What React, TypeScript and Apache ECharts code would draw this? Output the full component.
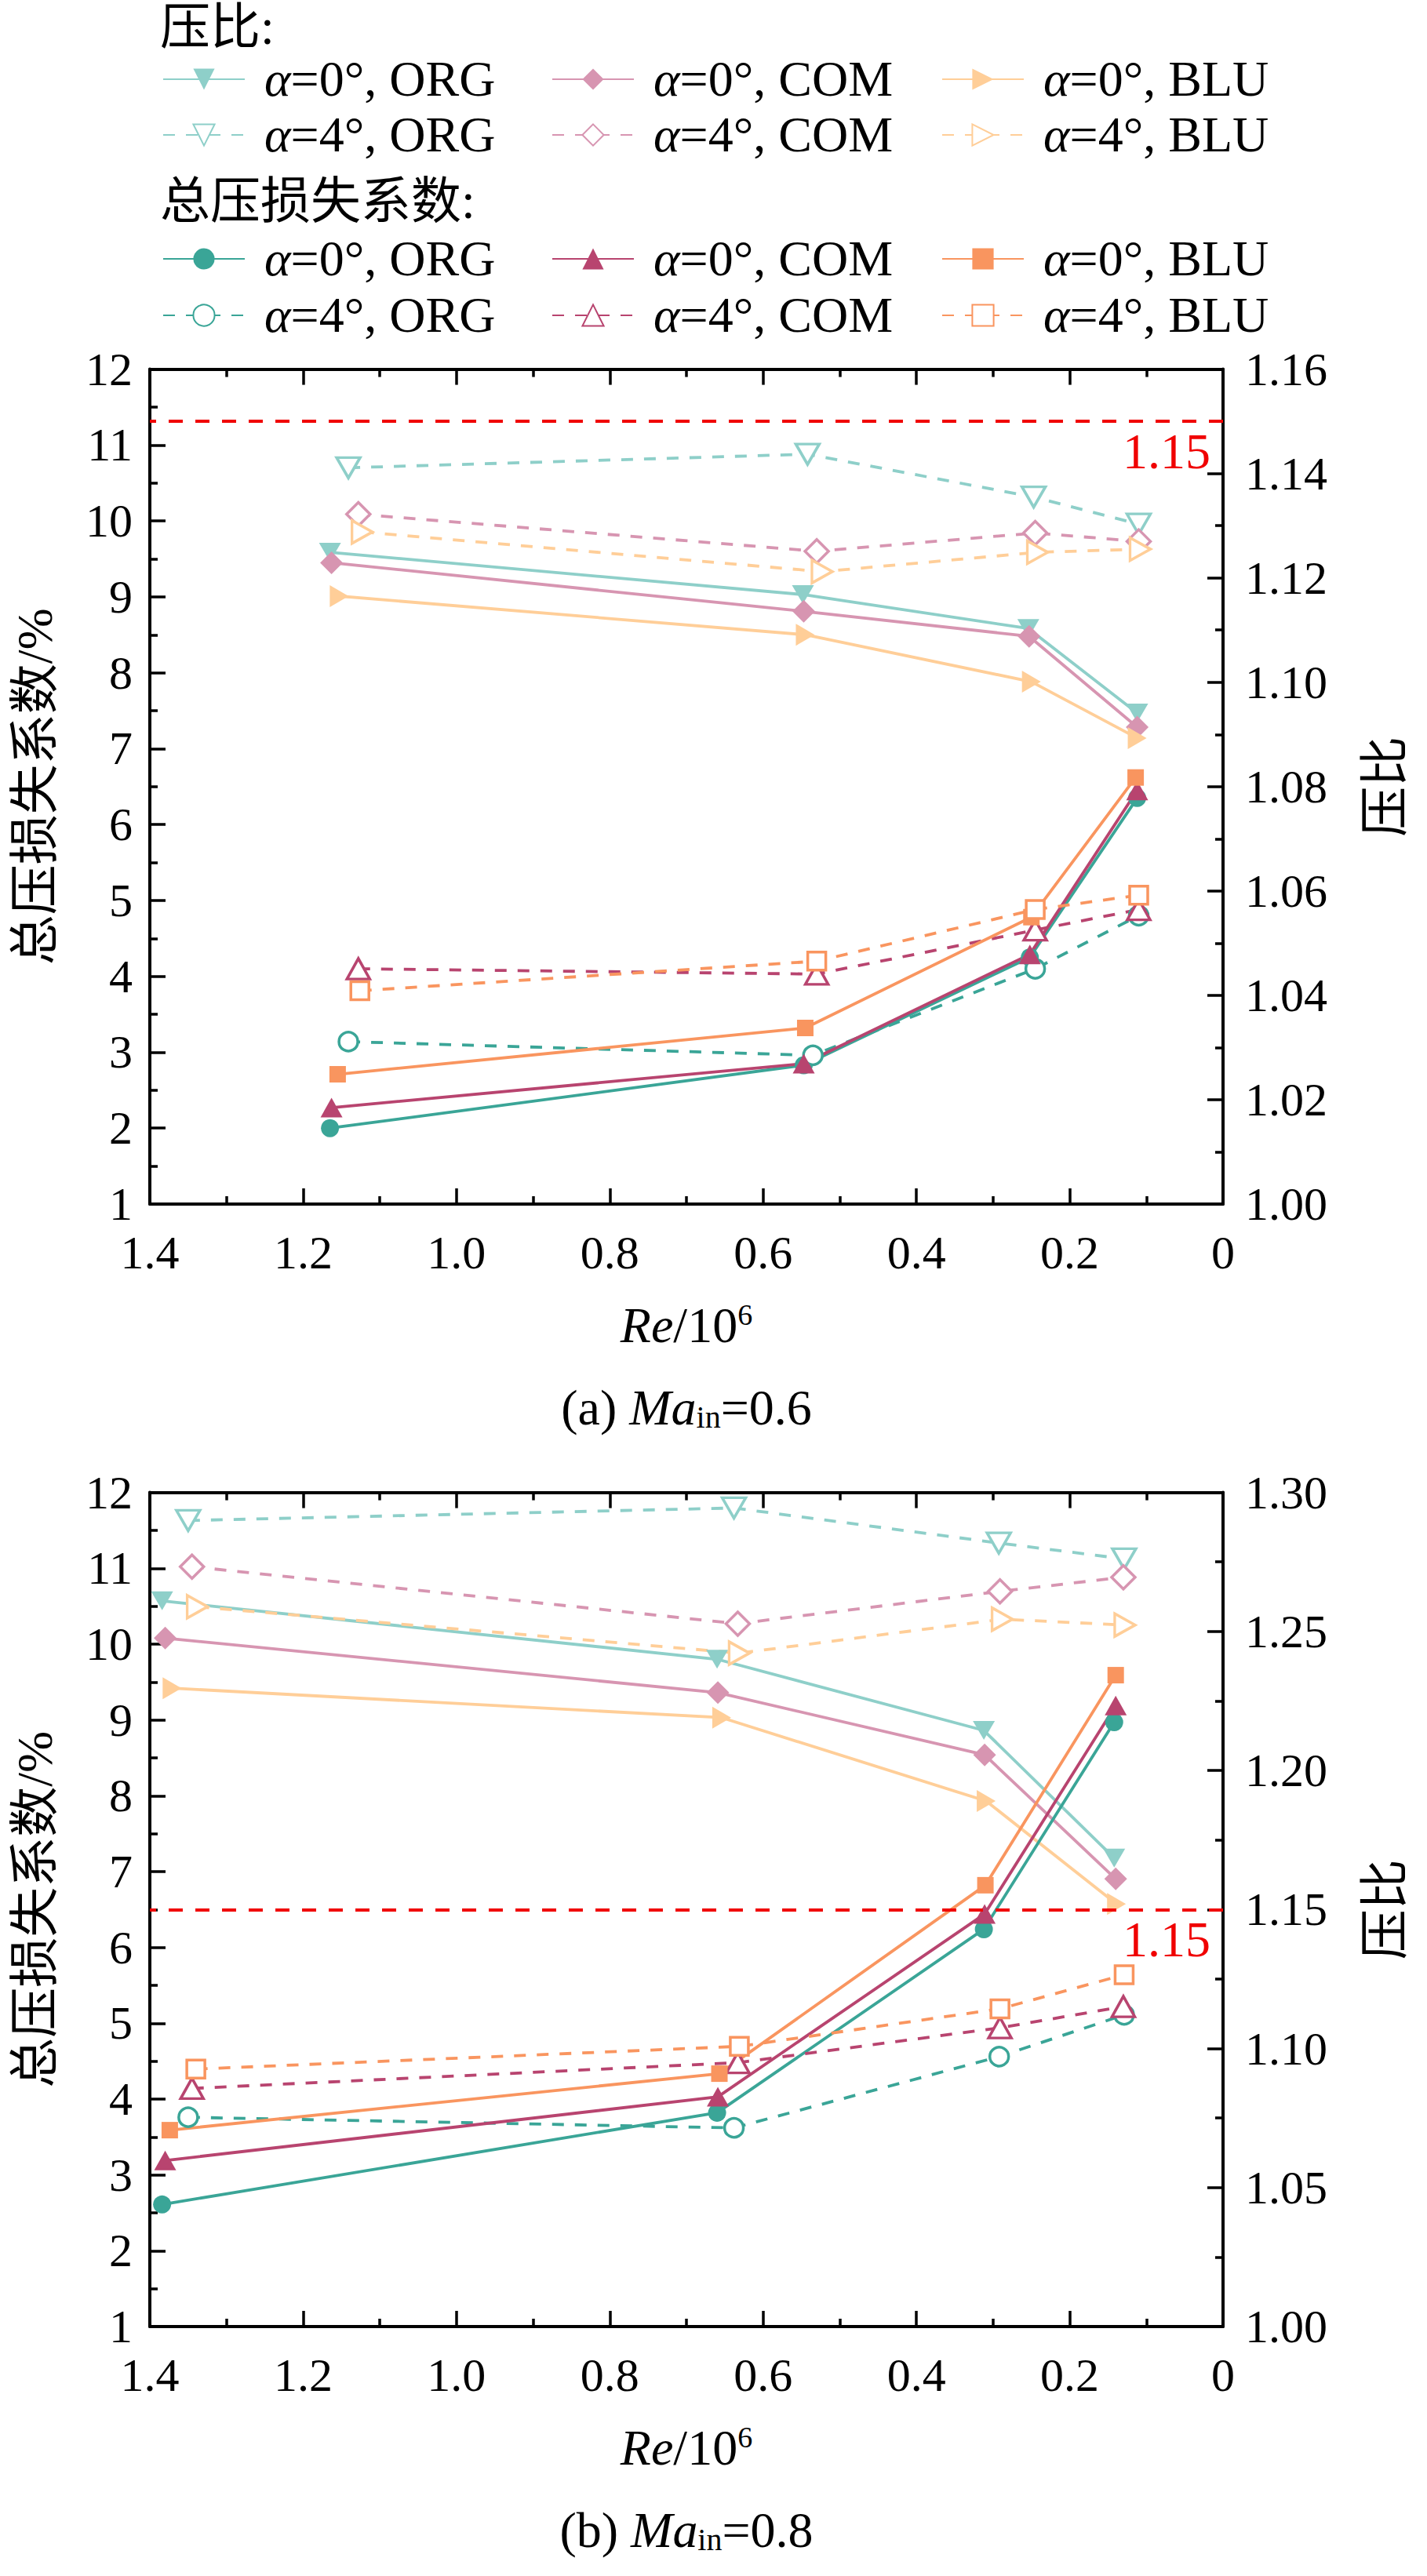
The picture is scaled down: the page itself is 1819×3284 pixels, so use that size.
import React, { useEffect, useRef } from "react";
import * as echarts from "echarts";

// ---------------- axes ----------------
const RE_MIN = 0;
const RE_MAX = 1.4;
const RE_STEP = 0.2;
const TL_MIN = 1;
const TL_MAX = 12;
const TL_STEP = 1;
const PR_A_MIN = 1.0;
const PR_A_MAX = 1.16;
const PR_A_STEP = 0.02;
const PR_B_MIN = 1.0;
const PR_B_MAX = 1.3;
const PR_B_STEP = 0.05;
const THRESHOLD = 1.15;
const THRESHOLD_LABEL = "1.15";

const CONFIGS = ["ORG", "COM", "BLU"];
const ALPHAS = [0, 4];

// ---------------- (a) Ma_in = 0.6 : pressure ratio (right axis) ----------------
const A_PR_ORG0_RE = [1.165, 0.548, 0.254, 0.112];
const A_PR_ORG0 = [1.1249, 1.1168, 1.1103, 1.0941];
const A_PR_COM0_RE = [1.163, 0.547, 0.253, 0.112];
const A_PR_COM0 = [1.1229, 1.1136, 1.1088, 1.0914];
const A_PR_BLU0_RE = [1.153, 0.545, 0.25, 0.112];
const A_PR_BLU0 = [1.1165, 1.1091, 1.1001, 1.0893];
const A_PR_ORG4_RE = [1.141, 0.542, 0.247, 0.11];
const A_PR_ORG4 = [1.1411, 1.1437, 1.1355, 1.1303];
const A_PR_COM4_RE = [1.128, 0.53, 0.245, 0.11];
const A_PR_COM4 = [1.1322, 1.1251, 1.1286, 1.127];
const A_PR_BLU4_RE = [1.123, 0.523, 0.242, 0.108];
const A_PR_BLU4 = [1.1288, 1.1212, 1.1249, 1.1255];

// ---------------- (a) Ma_in = 0.6 : total pressure loss coefficient (left axis) ----------------
const A_TL_ORG0_RE = [1.165, 0.547, 0.252, 0.112];
const A_TL_ORG0 = [2.0, 2.83, 4.25, 6.35];
const A_TL_COM0_RE = [1.163, 0.547, 0.252, 0.112];
const A_TL_COM0 = [2.27, 2.85, 4.29, 6.45];
const A_TL_BLU0_RE = [1.155, 0.545, 0.25, 0.114];
const A_TL_BLU0 = [2.71, 3.32, 4.78, 6.62];
const A_TL_ORG4_RE = [1.141, 0.535, 0.245, 0.11];
const A_TL_ORG4 = [3.14, 2.96, 4.1, 4.8];
const A_TL_COM4_RE = [1.128, 0.53, 0.245, 0.11];
const A_TL_COM4 = [4.1, 4.03, 4.61, 4.88];
const A_TL_BLU4_RE = [1.126, 0.53, 0.245, 0.11];
const A_TL_BLU4 = [3.81, 4.2, 4.88, 5.07];

// ---------------- (b) Ma_in = 0.8 : pressure ratio (right axis) ----------------
const B_PR_ORG0_RE = [1.384, 0.66, 0.312, 0.142];
const B_PR_ORG0 = [1.261, 1.24, 1.2144, 1.1685];
const B_PR_COM0_RE = [1.38, 0.659, 0.311, 0.14];
const B_PR_COM0 = [1.2476, 1.228, 1.2056, 1.161];
const B_PR_BLU0_RE = [1.371, 0.654, 0.309, 0.139];
const B_PR_BLU0 = [1.2296, 1.219, 1.189, 1.152];
const B_PR_ORG4_RE = [1.35, 0.638, 0.2925, 0.129];
const B_PR_ORG4 = [1.2899, 1.2944, 1.2818, 1.2761];
const B_PR_COM4_RE = [1.345, 0.633, 0.291, 0.13];
const B_PR_COM4 = [1.2733, 1.2528, 1.2644, 1.2695];
const B_PR_BLU4_RE = [1.338, 0.631, 0.288, 0.128];
const B_PR_BLU4 = [1.2589, 1.2422, 1.2544, 1.2523];

// ---------------- (b) Ma_in = 0.8 : total pressure loss coefficient (left axis) ----------------
const B_TL_ORG0_RE = [1.384, 0.66, 0.312, 0.142];
const B_TL_ORG0 = [2.61, 3.82, 6.24, 8.97];
const B_TL_COM0_RE = [1.38, 0.659, 0.311, 0.14];
const B_TL_COM0 = [3.19, 4.03, 6.44, 9.19];
const B_TL_BLU0_RE = [1.374, 0.657, 0.31, 0.14];
const B_TL_BLU0 = [3.59, 4.335, 6.82, 9.59];
const B_TL_ORG4_RE = [1.35, 0.638, 0.292, 0.129];
const B_TL_ORG4 = [3.76, 3.62, 4.56, 5.11];
const B_TL_COM4_RE = [1.345, 0.633, 0.291, 0.13];
const B_TL_COM4 = [4.14, 4.48, 4.94, 5.22];
const B_TL_BLU4_RE = [1.34, 0.631, 0.291, 0.129];
const B_TL_BLU4 = [4.395, 4.695, 5.19, 5.64];

// ---------------- texts ----------------
const PR_TITLE = "压比";
const TL_TITLE = "总压损失系数/%";
const LEGEND_PR_HEAD = "压比:";
const LEGEND_TL_HEAD = "总压损失系数:";

// ---------------- styles ----------------
const SERIF = '"Liberation Serif", "Times New Roman", "Noto Sans CJK SC", serif';
const FS = 60;
const COLORS: any = {
  pr: { ORG: "#8ECFC9", COM: "#D795B1", BLU: "#FFCE98" },
  tl: { ORG: "#3AA597", COM: "#B8446F", BLU: "#F9955F" },
};
const DOWN = "path://M0,0 L10,0 L5,8.66 Z";
const RIGHT = "path://M0,0 L8.66,5 L0,10 Z";
const SYMBOLS: any = {
  pr: { ORG: DOWN, COM: "diamond", BLU: RIGHT },
  tl: { ORG: "circle", COM: "triangle", BLU: "rect" },
};
const SIZE_FILLED: any = {
  pr: { ORG: [28, 24], COM: [29, 29], BLU: [24, 28] },
  tl: { ORG: 23, COM: [28, 25], BLU: 21 },
};
const SIZE_OPEN: any = {
  pr: { ORG: [30, 26], COM: [30, 30], BLU: [26, 29] },
  tl: { ORG: 24, COM: [29, 26], BLU: 23 },
};

const GRID_LEFT = 191;
const GRID_W = 1368;
const GRIDS = [
  { top: 470.6, height: 1064.4 },
  { top: 1902.6, height: 1063.4 },
];

const LEG_COLS = [207, 703, 1200];
const LEG_ROWS = [101, 172, 330, 402];

function seriesName(kind: string, alpha: number, cfg: string) {
  return `${kind === "pr" ? "PR" : "TL"}|α=${alpha}°, ${cfg}`;
}

type Spec = { kind: string; alpha: number; cfg: string; re: number[]; v: number[] };

const SPECS_A: Spec[] = [
  { kind: "pr", alpha: 0, cfg: "ORG", re: A_PR_ORG0_RE, v: A_PR_ORG0 },
  { kind: "pr", alpha: 4, cfg: "ORG", re: A_PR_ORG4_RE, v: A_PR_ORG4 },
  { kind: "pr", alpha: 0, cfg: "COM", re: A_PR_COM0_RE, v: A_PR_COM0 },
  { kind: "pr", alpha: 4, cfg: "COM", re: A_PR_COM4_RE, v: A_PR_COM4 },
  { kind: "pr", alpha: 0, cfg: "BLU", re: A_PR_BLU0_RE, v: A_PR_BLU0 },
  { kind: "pr", alpha: 4, cfg: "BLU", re: A_PR_BLU4_RE, v: A_PR_BLU4 },
  { kind: "tl", alpha: 0, cfg: "ORG", re: A_TL_ORG0_RE, v: A_TL_ORG0 },
  { kind: "tl", alpha: 4, cfg: "ORG", re: A_TL_ORG4_RE, v: A_TL_ORG4 },
  { kind: "tl", alpha: 0, cfg: "COM", re: A_TL_COM0_RE, v: A_TL_COM0 },
  { kind: "tl", alpha: 4, cfg: "COM", re: A_TL_COM4_RE, v: A_TL_COM4 },
  { kind: "tl", alpha: 0, cfg: "BLU", re: A_TL_BLU0_RE, v: A_TL_BLU0 },
  { kind: "tl", alpha: 4, cfg: "BLU", re: A_TL_BLU4_RE, v: A_TL_BLU4 },
];
const SPECS_B: Spec[] = [
  { kind: "pr", alpha: 0, cfg: "ORG", re: B_PR_ORG0_RE, v: B_PR_ORG0 },
  { kind: "pr", alpha: 4, cfg: "ORG", re: B_PR_ORG4_RE, v: B_PR_ORG4 },
  { kind: "pr", alpha: 0, cfg: "COM", re: B_PR_COM0_RE, v: B_PR_COM0 },
  { kind: "pr", alpha: 4, cfg: "COM", re: B_PR_COM4_RE, v: B_PR_COM4 },
  { kind: "pr", alpha: 0, cfg: "BLU", re: B_PR_BLU0_RE, v: B_PR_BLU0 },
  { kind: "pr", alpha: 4, cfg: "BLU", re: B_PR_BLU4_RE, v: B_PR_BLU4 },
  { kind: "tl", alpha: 0, cfg: "ORG", re: B_TL_ORG0_RE, v: B_TL_ORG0 },
  { kind: "tl", alpha: 4, cfg: "ORG", re: B_TL_ORG4_RE, v: B_TL_ORG4 },
  { kind: "tl", alpha: 0, cfg: "COM", re: B_TL_COM0_RE, v: B_TL_COM0 },
  { kind: "tl", alpha: 4, cfg: "COM", re: B_TL_COM4_RE, v: B_TL_COM4 },
  { kind: "tl", alpha: 0, cfg: "BLU", re: B_TL_BLU0_RE, v: B_TL_BLU0 },
  { kind: "tl", alpha: 4, cfg: "BLU", re: B_TL_BLU4_RE, v: B_TL_BLU4 },
];

function buildSeries(specs: Spec[], xAxisIndex: number, leftY: number, rightY: number) {
  return specs.map((s, idx) => {
    const c = COLORS[s.kind][s.cfg];
    const open = s.alpha === 4;
    const out: any = {
      type: "line",
      name: seriesName(s.kind, s.alpha, s.cfg),
      xAxisIndex,
      yAxisIndex: s.kind === "pr" ? rightY : leftY,
      data: s.re.map((x, i) => [x, s.v[i]]),
      symbol: SYMBOLS[s.kind][s.cfg],
      symbolSize: open ? SIZE_OPEN[s.kind][s.cfg] : SIZE_FILLED[s.kind][s.cfg],
      showSymbol: true,
      showAllSymbol: true,
      lineStyle: { color: c, width: 3.8, type: open ? [15, 14] : "solid" },
      itemStyle: open
        ? { color: "#ffffff", borderColor: c, borderWidth: 3.5 }
        : { color: c, borderWidth: 0 },
      emphasis: { disabled: true },
      z: s.kind === "tl" ? 4 : 3,
    };
    if (idx === 0) {
      out.markLine = {
        silent: true,
        symbol: ["none", "none"],
        lineStyle: { color: "#F00000", width: 4, type: [18, 16] },
        label: {
          show: true,
          position: "insideStartBottom",
          formatter: THRESHOLD_LABEL,
          color: "#F00000",
          fontSize: 64,
          fontFamily: SERIF,
          distance: [16, 6],
        },
        emphasis: { disabled: true },
        data: [{ yAxis: THRESHOLD }],
      };
    }
    return out;
  });
}

const axisLineStyle = { lineStyle: { color: "#000", width: 4 } };
const majorTick = { show: true, inside: true, length: 20, lineStyle: { color: "#000", width: 3.5 } };
const minorTick = { show: true, splitNumber: 2, length: 10, lineStyle: { color: "#000", width: 3.5 } };

function xAxes(gridIndex: number) {
  const base = {
    type: "value",
    gridIndex,
    min: RE_MIN,
    max: RE_MAX,
    interval: RE_STEP,
    inverse: true,
    axisLine: { show: true, onZero: false, ...axisLineStyle },
    axisTick: majorTick,
    minorTick,
    splitLine: { show: false },
  };
  return [
    {
      ...base,
      position: "bottom",
      axisLabel: {
        show: true,
        margin: 38,
        lineHeight: 48,
        fontSize: FS,
        fontFamily: SERIF,
        color: "#000",
        formatter: (v: number) => (v === 0 ? "0" : v.toFixed(1)),
      },
    },
    { ...base, position: "top", axisLabel: { show: false } },
  ];
}

function yAxes(gridIndex: number, prMin: number, prMax: number, prStep: number) {
  return [
    {
      type: "value",
      gridIndex,
      position: "left",
      min: TL_MIN,
      max: TL_MAX,
      interval: TL_STEP,
      name: TL_TITLE,
      nameLocation: "middle",
      nameGap: 115,
      nameTextStyle: { fontSize: 64, fontFamily: SERIF, color: "#000" },
      axisLine: { show: true, onZero: false, ...axisLineStyle },
      axisTick: majorTick,
      minorTick,
      splitLine: { show: false },
      axisLabel: { show: true, margin: 22, lineHeight: 44, fontSize: FS, fontFamily: SERIF, color: "#000" },
    },
    {
      type: "value",
      gridIndex,
      position: "right",
      min: prMin,
      max: prMax,
      interval: prStep,
      name: PR_TITLE,
      nameLocation: "middle",
      nameRotate: 90,
      nameGap: 174,
      nameTextStyle: { fontSize: 64, fontFamily: SERIF, color: "#000" },
      axisLine: { show: true, onZero: false, ...axisLineStyle },
      axisTick: majorTick,
      minorTick,
      splitLine: { show: false },
      axisLabel: {
        show: true,
        margin: 28,
        lineHeight: 44,
        fontSize: FS,
        fontFamily: SERIF,
        color: "#000",
        formatter: (v: number) => v.toFixed(2),
      },
    },
  ];
}

function buildLegends() {
  const legends: any[] = [];
  const kinds = ["pr", "tl"];
  kinds.forEach((kind, ki) => {
    ALPHAS.forEach((alpha, ai) => {
      CONFIGS.forEach((cfg, ci) => {
        legends.push({
          show: true,
          left: LEG_COLS[ci],
          top: LEG_ROWS[ki * 2 + ai] - 32,
          orient: "horizontal",
          padding: 0,
          itemWidth: 104,
          itemHeight: 34,
          selectedMode: false,
          data: [seriesName(kind, alpha, cfg)],
          formatter: (name: string) => {
            const t = name.split("|")[1];
            return "{sp|}{i|α}" + t.slice(1);
          },
          textStyle: {
            fontSize: 64,
            fontFamily: SERIF,
            color: "#000",
            rich: {
              sp: { width: 20 },
              i: { fontStyle: "italic", fontSize: 64, fontFamily: SERIF, color: "#000" },
            },
          },
        });
      });
    });
  });
  return legends;
}

function captionGraphics() {
  const els: any[] = [];
  const cx = GRID_LEFT + GRID_W / 2;
  const rich = {
    i: { fontStyle: "italic", fontSize: 64, fontFamily: SERIF, fill: "#000", lineHeight: 64 },
    n: { fontSize: 64, fontFamily: SERIF, fill: "#000", lineHeight: 64 },
    sup: { fontSize: 38, fontFamily: SERIF, fill: "#000", lineHeight: 38, verticalAlign: "top" },
    sub: { fontSize: 40, fontFamily: SERIF, fill: "#000", lineHeight: 22, verticalAlign: "bottom" },
  };
  const panels = ["(a) ", "(b) "];
  const mach = ["=0.6", "=0.8"];
  GRIDS.forEach((g, gi) => {
    const bottom = g.top + g.height;
    els.push({
      type: "text",
      x: cx,
      y: bottom + 154,
      style: {
        text: "{i|Re}{n|/10}{sup|6}",
        rich,
        align: "center",
        verticalAlign: "middle",
        fontSize: 64,
        fontFamily: SERIF,
        fill: "#000",
      },
    });
    els.push({
      type: "text",
      x: cx,
      y: bottom + 259,
      style: {
        text: `{n|${panels[gi]}}{i|Ma}{sub|in}{n|${mach[gi]}}`,
        rich,
        align: "center",
        verticalAlign: "middle",
        fontSize: 64,
        fontFamily: SERIF,
        fill: "#000",
      },
    });
  });
  els.push({
    type: "text",
    x: 204,
    y: 34,
    style: { text: LEGEND_PR_HEAD, fontSize: 64, fontFamily: SERIF, fill: "#000", align: "left", verticalAlign: "middle" },
  });
  els.push({
    type: "text",
    x: 204,
    y: 256,
    style: { text: LEGEND_TL_HEAD, fontSize: 64, fontFamily: SERIF, fill: "#000", align: "left", verticalAlign: "middle" },
  });
  return els;
}

export default function App() {
  const ref = useRef<HTMLDivElement>(null);
  useEffect(() => {
    document.body.style.margin = "0";
    if (!ref.current) return;
    const chart = echarts.init(ref.current, undefined, { renderer: "svg" });
    const option: any = {
      animation: false,
      backgroundColor: "#ffffff",
      textStyle: { fontFamily: SERIF },
      grid: GRIDS.map((g) => ({ left: GRID_LEFT, top: g.top, width: GRID_W, height: g.height, containLabel: false })),
      xAxis: [...xAxes(0), ...xAxes(1)],
      yAxis: [...yAxes(0, PR_A_MIN, PR_A_MAX, PR_A_STEP), ...yAxes(1, PR_B_MIN, PR_B_MAX, PR_B_STEP)],
      legend: buildLegends(),
      graphic: captionGraphics(),
      series: [...buildSeries(SPECS_A, 0, 0, 1), ...buildSeries(SPECS_B, 2, 2, 3)],
    };
    chart.setOption(option);
    return () => chart.dispose();
  }, []);
  return <div ref={ref} style={{ width: 1819, height: 3284 }} />;
}
